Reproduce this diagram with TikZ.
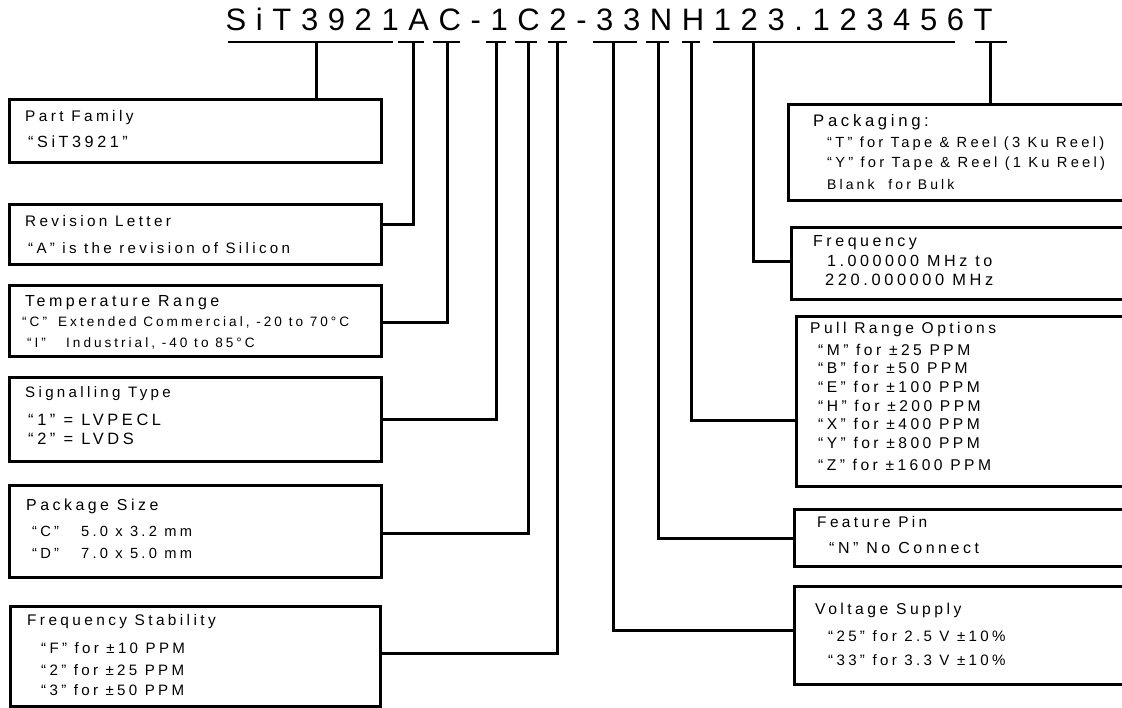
\documentclass[tikz,border=0pt]{standalone}
\usepackage{fontspec}
\setmainfont{Liberation Sans}
\newfontfamily\lbfont[LetterSpace=22]{Liberation Sans}
\newfontfamily\ttlfont[LetterSpace=31]{Liberation Sans}
\tikzset{
  box/.style={draw, line width=3pt, inner sep=0pt, anchor=north west},
  conn/.style={line width=3pt},
  ul/.style={line width=2.3pt},
  txt/.style={anchor=base west, inner sep=0pt, font=\lbfont\fontsize{#1}{#1}\selectfont},
  ttl/.style={anchor=base west, inner sep=0pt, font=\ttlfont\fontsize{31}{35}\selectfont},
}
\begin{document}
\begin{tikzpicture}[x=1pt,y=-1pt]
\useasboundingbox (0,0) rectangle (1122,708);
\clip (0,0) rectangle (1122,708);
% title
\node[ttl] (title) at (225.5,31) {SiT3921AC-1C2-33NH123.123456T};
% underline segments
\coordinate (u0a) at (228,42); \coordinate (u0b) at (393,42);
\coordinate (uAa) at (398,42); \coordinate (uAb) at (424,42);
\coordinate (uCa) at (433,42); \coordinate (uCb) at (460,42);
\coordinate (u1a) at (486,42); \coordinate (u1b) at (506,42);
\coordinate (uDa) at (515,42); \coordinate (uDb) at (537,42);
\coordinate (u2a) at (548,42); \coordinate (u2b) at (567,42);
\coordinate (u3a) at (593,42); \coordinate (u3b) at (637,42);
\coordinate (uNa) at (646,42); \coordinate (uNb) at (669,42);
\coordinate (uHa) at (682,42); \coordinate (uHb) at (700,42);
\coordinate (uFa) at (713,42); \coordinate (uFb) at (955,42);
\coordinate (uTa) at (975,42); \coordinate (uTb) at (1007,42);
\foreach \s in {0,A,C,1,D,2,3,N,H,F,T} { \draw[ul] (u\s a) -- (u\s b); }
% stem origins
\coordinate (s0) at (316,42);
\coordinate (sA) at (413,42);
\coordinate (sC) at (447,42);
\coordinate (s1) at (496,42);
\coordinate (sD) at (528,42);
\coordinate (s2) at (557,42);
\coordinate (s3) at (613,42);
\coordinate (sN) at (658,42);
\coordinate (sH) at (691,42);
\coordinate (sF) at (753,42);
\coordinate (sT) at (990,42);
% join heights
\coordinate (hA) at (0,225);
\coordinate (hC) at (0,323);
\coordinate (h1) at (0,420);
\coordinate (hD) at (0,533);
\coordinate (h2) at (0,653);
\coordinate (h3) at (0,630);
\coordinate (hN) at (0,538);
\coordinate (hH) at (0,421);
\coordinate (hF) at (0,262);
% left boxes
\node[box, minimum width=372pt, minimum height=63pt] (pf) at (8,98) {};
\node[box, minimum width=372pt, minimum height=60pt] (rev) at (8,203) {};
\node[box, minimum width=372pt, minimum height=71pt] (tmp) at (8,284) {};
\node[box, minimum width=372pt, minimum height=84pt] (sig) at (8,376) {};
\node[box, minimum width=372pt, minimum height=92pt] (pkg) at (8,484) {};
\node[box, minimum width=370pt, minimum height=100pt] (fst) at (9,605) {};
% right boxes
\node[box, minimum width=360pt, minimum height=96pt] (pak) at (787,103) {};
\node[box, minimum width=360pt, minimum height=72pt] (frq) at (790,226) {};
\node[box, minimum width=360pt, minimum height=170pt] (pul) at (795,315) {};
\node[box, minimum width=360pt, minimum height=57pt] (fea) at (793,508) {};
\node[box, minimum width=360pt, minimum height=98pt] (vol) at (793,585) {};
% connectors
\draw[conn] (s0) -- (s0 |- pf.north);
\draw[conn] (sA) |- (rev.east |- hA);
\draw[conn] (sC) |- (tmp.east |- hC);
\draw[conn] (s1) |- (sig.east |- h1);
\draw[conn] (sD) |- (pkg.east |- hD);
\draw[conn] (s2) |- (fst.east |- h2);
\draw[conn] (s3) |- (vol.west |- h3);
\draw[conn] (sN) |- (fea.west |- hN);
\draw[conn] (sH) |- (pul.west |- hH);
\draw[conn] (sF) |- (frq.west |- hF);
\draw[conn] (sT) -- (sT |- pak.north);
% left texts
\node[txt=15.4] (pf1) at (25,122) {Part Family};
\node[txt=16.2] (pf2) at (28,148) {“SiT3921”};
\node[txt=15.3] (rv1) at (25,227) {Revision Letter};
\node[txt=15.1] (rv2) at (28,254) {“A” is the revision of Silicon};
\node[txt=16] (tm1) at (25,307) {Temperature Range};
\node[txt=13.6] (tm2) at (22,327) {\makebox[36pt][l]{“C”}Extended Commercial, -20 to 70°C};
\node[txt=13.6] (tm3) at (27,348) {\makebox[39pt][l]{“I”}Industrial, -40 to 85°C};
\node[txt=15.1] (sg1) at (25,398) {Signalling Type};
\node[txt=16.4] (sg2) at (28,425) {“1” = LVPECL};
\node[txt=16.4] (sg3) at (28,445) {“2” = LVDS};
\node[txt=15.9] (pk1) at (26,510) {Package Size};
\node[txt=14.7] (pk2) at (32,536) {\makebox[49pt][l]{“C”}5.0 x 3.2 mm};
\node[txt=14.7] (pk3) at (32,558) {\makebox[49pt][l]{“D”}7.0 x 5.0 mm};
\node[txt=15.4] (fs1) at (27,625) {Frequency Stability};
\node[txt=15.1] (fs2) at (41,653) {“F” for ±10 PPM};
\node[txt=15.1] (fs3) at (41,675) {“2” for ±25 PPM};
\node[txt=15.1] (fs4) at (41,695) {“3” for ±50 PPM};
% right texts
\node[txt=16.7] (pa1) at (813,127) {Packaging:};
\node[txt=14.7] (pa2) at (827,148) {“T” for Tape \& Reel (3 Ku Reel)};
\node[txt=14.7] (pa3) at (827,168) {“Y” for Tape \& Reel (1 Ku Reel)};
\node[txt=14] (pa4) at (827,190) {Blank\ \ for Bulk};
\node[txt=16] (fq1) at (813,247) {Frequency};
\node[txt=16.1] (fq2) at (827,267) {1.000000 MHz to};
\node[txt=16.4] (fq3) at (825,286) {220.000000 MHz};
\node[txt=15.6] (pr0) at (810,334) {Pull Range Options};
\node[txt=15.6] (pr1) at (818,356) {“M” for ±25 PPM};
\node[txt=15.6] (pr2) at (818,374) {“B” for ±50 PPM};
\node[txt=15.6] (pr3) at (818,393) {“E” for ±100 PPM};
\node[txt=15.6] (pr4) at (818,412) {“H” for ±200 PPM};
\node[txt=15.6] (pr5) at (818,430) {“X” for ±400 PPM};
\node[txt=15.6] (pr6) at (818,449) {“Y” for ±800 PPM};
\node[txt=15.6] (pr7) at (818,470) {“Z” for ±1600 PPM};
\node[txt=15.4] (fe1) at (817,527) {Feature Pin};
\node[txt=16] (fe2) at (829,553) {“N” No Connect};
\node[txt=15.7] (vo1) at (815,614) {Voltage Supply};
\node[txt=15.1] (vo2) at (828,641) {“25” for 2.5 V ±10\%};
\node[txt=15.1] (vo3) at (828,665) {“33” for 3.3 V ±10\%};
\end{tikzpicture}
\end{document}
